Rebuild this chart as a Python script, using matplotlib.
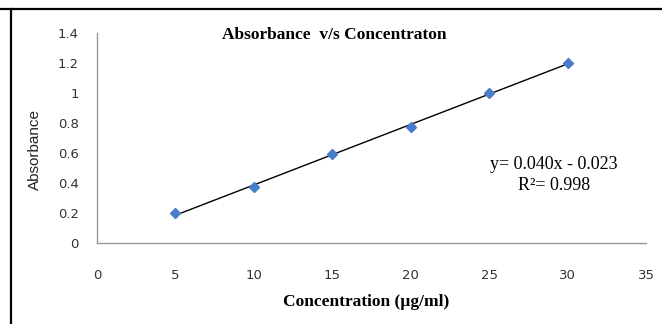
import numpy as np
import matplotlib.pyplot as plt
from matplotlib.lines import Line2D

# datos
conc = [5, 10, 15, 20, 25, 30]
absorb = [0.198, 0.370, 0.589, 0.773, 1.000, 1.196]
x_ticks = [0, 5, 10, 15, 20, 25, 30, 35]
y_ticks = [0, 0.2, 0.4, 0.6, 0.8, 1, 1.2, 1.4]
y_tick_labels = ['0', '0.2', '0.4', '0.6', '0.8', '1', '1.2', '1.4']

fig = plt.figure(figsize=(6.62, 3.24), dpi=100)
ax = fig.add_axes([97/662, 1-242.7/324, 549/662, 210/324])

# linea de tendencia
m, b = np.polyfit(conc, absorb, 1)
xs = np.array([conc[0], conc[-1]])
ax.plot(xs, m*xs + b, color='black', lw=1.0, zorder=2)
ax.plot(conc, absorb, linestyle='none', marker='D', ms=5.5,
        color='#4a7ccc', zorder=3)

ax.set_xlim(0, 35)
ax.set_ylim(0, 1.4)
ax.set_xticks(x_ticks)
ax.set_yticks(y_ticks)
ax.set_yticklabels(y_tick_labels)
ax.tick_params(length=0, labelsize=9.5, colors='#333333')
ax.tick_params(axis='y', pad=13)
ax.tick_params(axis='x', pad=19)
for lab in ax.get_xticklabels() + ax.get_yticklabels():
    lab.set_family('DejaVu Sans')

ax.spines['top'].set_visible(False)
ax.spines['right'].set_visible(False)
for s in ['left', 'bottom']:
    ax.spines[s].set_color('#999999')
    ax.spines[s].set_linewidth(1.0)

fig.text(35/662, 1-149/324, 'Absorbance', family='Liberation Sans', fontsize=11,
         rotation=90, ha='center', va='center', color='#222222')
fig.text(366/662, 1-302/324, 'Concentration (\u00b5g/ml)', family='Liberation Serif',
         weight='bold', fontsize=12.5, ha='center', va='center')
fig.text(334.5/662, 1-35/324, 'Absorbance  v/s Concentraton', family='Liberation Serif',
         weight='bold', fontsize=12.5, ha='center', va='center')
fig.text(554/662, 1-175/324, 'y= 0.040x - 0.023\nR\u00b2= 0.998', family='Liberation Serif',
         fontsize=13, ha='center', va='center', linespacing=1.3)

# marco negro (solo arriba e izquierda)
fig.add_artist(Line2D([0, 1], [1-8.5/324, 1-8.5/324], color='black', lw=1.6,
                      transform=fig.transFigure))
fig.add_artist(Line2D([11.3/662, 11.3/662], [0, 1-8.5/324], color='black', lw=1.6,
                      transform=fig.transFigure))

fig.savefig('out.png', dpi=100)
